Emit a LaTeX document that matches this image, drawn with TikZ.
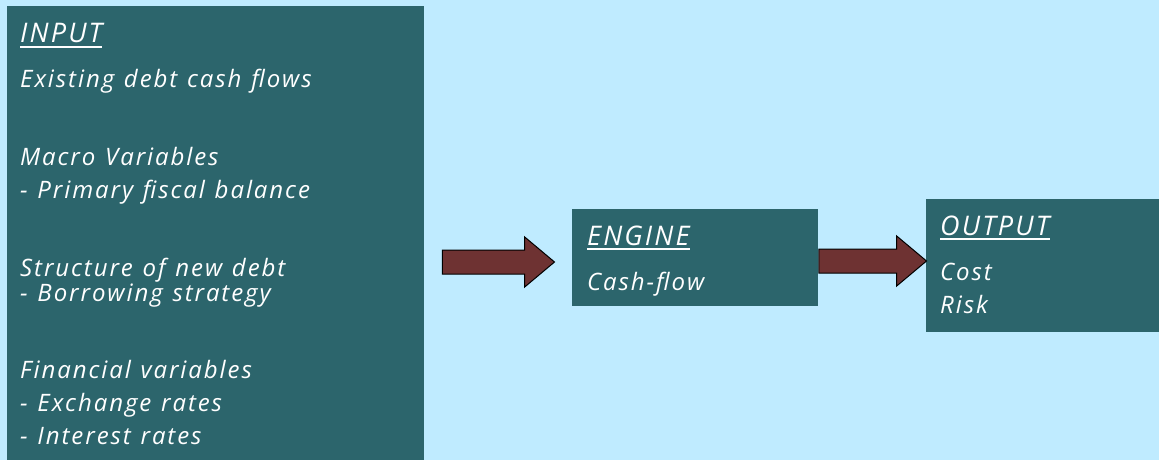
\documentclass[tikz,border=0pt]{standalone}
\usepackage{fontspec}
\setmainfont{Open Sans}[LetterSpace=8,WordSpace=1.2]
\usetikzlibrary{positioning,calc,shapes.arrows}
\definecolor{skyc}{RGB}{191,235,255}
\definecolor{boxc}{RGB}{44,101,108}
\definecolor{arrc}{RGB}{110,50,50}

\newcommand{\flowarrow}[3]{%
  \path let \p1=(#2), \p2=(#3), \n1={\x2-\x1} in
    node[bigarr, minimum height=\n1] (#1) at (#2) {};}

\begin{document}
\begin{tikzpicture}[x=1pt,y=-1pt]
\tikzstyle{blk}=[fill=boxc,draw=none,inner sep=0pt,anchor=north west];
\tikzstyle{head}=[anchor=base west,inner sep=0pt,text=white,font=\fontsize{27}{32}\selectfont\itshape];
\tikzstyle{txt}=[anchor=base west,inner sep=0pt,text=white,font=\fontsize{24}{28}\selectfont\itshape];
\tikzstyle{uline}=[white,line width=2pt];
\tikzset{bigarr/.style={single arrow,draw=black,fill=arrc,line width=1pt,inner xsep=0pt,inner ysep=11.5pt,
  single arrow head extend=13pt,single arrow tip angle=80,anchor=tail}}

\useasboundingbox[fill=skyc] (0,0) rectangle (1159,460);

% boxes
\node[blk,minimum width=417pt,minimum height=454pt] (input) at (7,6) {};
\node[blk,minimum width=246pt,minimum height=97pt] (engine) at (572,209) {};
\node[blk,minimum width=233pt,minimum height=133pt] (output) at (926,199) {};

% input
\node[head] (inhead) at (20,43) {INPUT};
\draw[uline] ([yshift=-4pt]inhead.base west) -- ([yshift=-4pt]inhead.base east);
\node[txt] (in1) at (20,88) {Existing debt cash flows};
\node[txt] (in2) at (20,165) {Macro Variables};
\node[txt] (in3) at (20,198) {- Primary fiscal balance};
\node[txt] (in4) at (20,276) {Structure of new debt};
\node[txt] (in5) at (20,301) {- Borrowing strategy};
\node[txt] (in6) at (20,378) {Financial variables};
\node[txt] (in7) at (20,411) {- Exchange rates};
\node[txt] (in8) at (20,444) {- Interest rates};

% engine
\node[head] (enhead) at (587,245) {ENGINE};
\draw[uline] ([yshift=-4pt]enhead.base west) -- ([yshift=-4pt]enhead.base east);
\node[txt] (en1) at (587,290) {Cash-flow};

% output
\node[head] (outhead) at (940,235) {OUTPUT};
\draw[uline] ([yshift=-4pt]outhead.base west) -- ([yshift=-4pt]outhead.base east);
\node[txt] (out1) at (940,280) {Cost};
\node[txt] (out2) at (940,313) {Risk};

% arrows
\coordinate (a1s) at ($(input.east |- 0,262)+(17.5,0)$);
\coordinate (a1e) at ($(engine.west |- 0,262)+(-18,0)$);
\coordinate (a2s) at (engine.east |- 0,261);
\coordinate (a2e) at (output.west |- 0,261);
\flowarrow{arr1}{a1s}{a1e}
\flowarrow{arr2}{a2s}{a2e}

\end{tikzpicture}
\end{document}
